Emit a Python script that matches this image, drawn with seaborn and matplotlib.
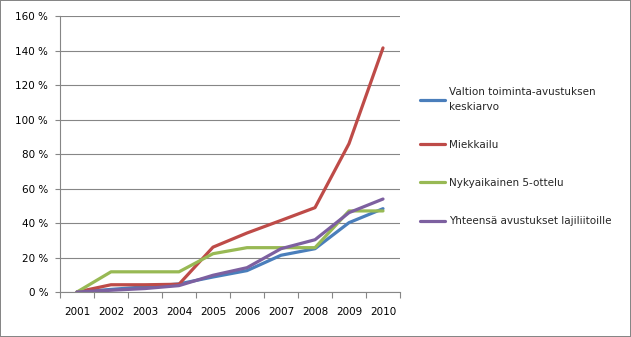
import matplotlib
matplotlib.use("Agg")
import matplotlib.pyplot as plt
import seaborn as sns
import pandas as pd
from matplotlib.ticker import FixedLocator

years = ["2001", "2002", "2003", "2004", "2005", "2006", "2007", "2008", "2009", "2010"]
series_names = ["Valtion toiminta-avustuksen\nkeskiarvo", "Miekkailu",
                "Nykyaikainen 5-ottelu", "Yhteensä avustukset lajiliitoille"]
valtion = [0, 1.5, 3, 4.7, 8.7, 12.4, 21.3, 25.1, 40.2, 48.3]
miekkailu = [0, 4.2, 4.2, 4.5, 26, 34.2, 41.5, 48.9, 86, 141.5]
nykyaikainen = [0, 11.7, 11.7, 11.7, 22.2, 25.7, 25.7, 25.7, 47, 47]
yhteensa = [0, 1, 2, 3.7, 9.7, 14.1, 25.1, 30.3, 46, 53.9]
colors = ["#4A7EBB", "#BE4B48", "#98B954", "#7D60A0"]
yticks = [0, 20, 40, 60, 80, 100, 120, 140, 160]

rows = []
for name, vals in zip(series_names, [valtion, miekkailu, nykyaikainen, yhteensa]):
    for i, v in enumerate(vals):
        rows.append({"pos": i, "value": v, "series": name})
df = pd.DataFrame(rows)

sns.set_theme(style="white")
plt.rcParams["font.family"] = ["DejaVu Sans"]

FS = 7.5
fig = plt.figure(figsize=(6.31, 3.37), dpi=100, linewidth=1.2, edgecolor="#868686")
ax = fig.add_axes([60/631, 1 - 292/337, 340/631, 276/337])

sns.lineplot(data=df, x="pos", y="value", hue="series", hue_order=series_names,
             palette=colors, linewidth=2.3, ax=ax, legend=True)

ax.set_xlim(-0.5, len(years) - 0.5)
ax.set_ylim(0, 160)
ax.set_xticks(range(len(years)))
ax.set_xticklabels(years, fontsize=FS, color="black")
ax.xaxis.set_minor_locator(FixedLocator([i - 0.5 for i in range(len(years) + 1)]))
ax.tick_params(axis="x", which="major", length=0, pad=11)
ax.tick_params(axis="x", which="minor", length=4, width=0.8, color="#868686", direction="out", bottom=True)
ax.set_yticks(yticks)
ax.set_yticklabels([f"{t}\u00a0%" for t in yticks], fontsize=FS, color="black")
ax.tick_params(axis="y", length=3.5, width=0.8, color="#868686", direction="out", left=True, pad=5)
ax.grid(axis="y", color="#868686", linewidth=0.8)
ax.set_axisbelow(True)
for s in ["top", "right"]:
    ax.spines[s].set_visible(False)
for s in ["left", "bottom"]:
    ax.spines[s].set_color("#868686")
    ax.spines[s].set_linewidth(0.8)
ax.set_xlabel("")
ax.set_ylabel("")

handles, labels = ax.get_legend_handles_labels()
ax.legend_.remove()
leg = fig.legend(handles, labels, loc="upper left", bbox_to_anchor=(420/631, 1 - 87/337),
                 frameon=False, fontsize=FS, borderpad=0, borderaxespad=0,
                 handlelength=2.4, handletextpad=0.35, labelspacing=2.7)
for t in leg.get_texts():
    t.set_linespacing(1.6)

fig.savefig("out.png", dpi=100, edgecolor=fig.get_edgecolor())
